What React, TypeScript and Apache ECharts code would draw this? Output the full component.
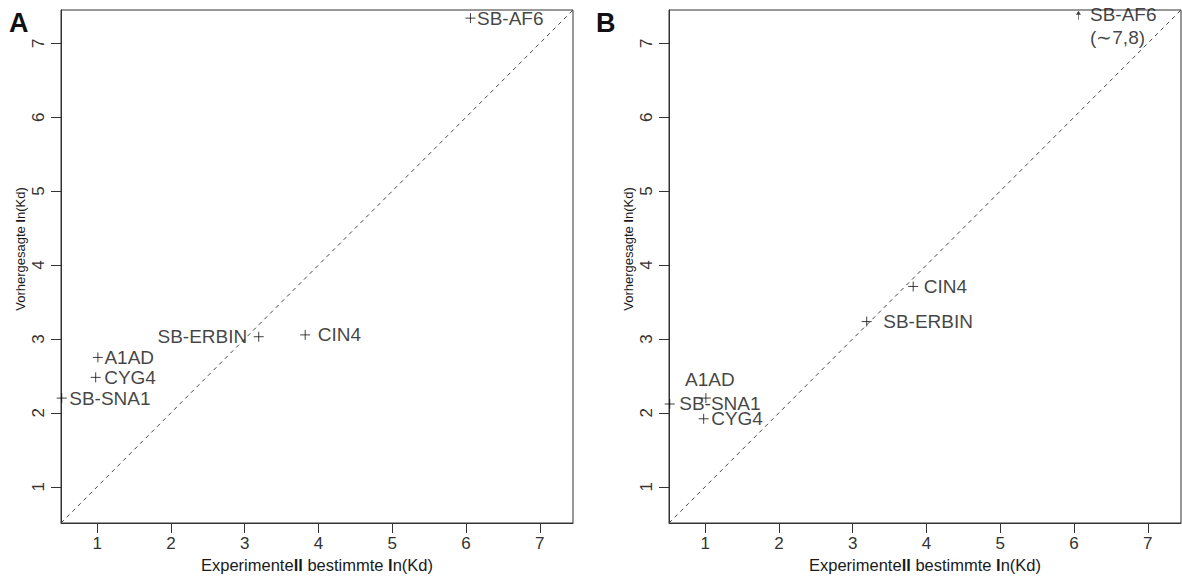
import React, { useEffect, useRef } from "react";
import * as echarts from "echarts";

const FONT = "Liberation Sans";
const AXIS_MIN = 0.51;
const AXIS_MAX = 7.45;
const TICKS = [1, 2, 3, 4, 5, 6, 7];

const proteins = ["SB-AF6", "SB-ERBIN", "CIN4", "A1AD", "CYG4", "SB-SNA1"];
const experimental = [6.06, 3.19, 3.82, 1.01, 0.98, 0.52];
const predictedA = [7.34, 3.03, 3.055, 2.75, 2.48, 2.2];
const predictedB = [7.38, 3.235, 3.71, 2.2, 1.92, 2.12];
const offScaleB = [true, false, false, false, false, false];
const noteB = ["(∼7,8)", "", "", "", "", ""];

const xTitle = ["Experimente", "ll", " bestimmte ", "l", "n(Kd)"];
const yTitle = ["Vorhergesagte ", "l", "n(Kd)"];

const CROSS = "path://M5,0L5,10M0,5L10,5";
const ARROW = "path://M3,0L6,4.5L3.4,4.5L3.4,10L2.6,10L2.6,4.5L0,4.5Z";

// label placement per point (style only)
const placeA = [
  { position: "right", distance: 1 },
  { position: "left", distance: 6 },
  { position: "right", distance: 7 },
  { position: "right", distance: 1 },
  { position: "right", distance: 3 },
  { position: "right", distance: 2 },
];
const placeB = [
  { position: "right", distance: 9, offset: [0, 11] },
  { position: "right", distance: 11 },
  { position: "right", distance: 5 },
  { position: "top", distance: 2, offset: [4, 0] },
  { position: "right", distance: 2 },
  { position: "right", distance: 4 },
];

const labelText = { fontSize: 19, fontFamily: FONT, color: "#111" };

function buildData(pred: number[], place: any[], offScale?: boolean[], notes?: string[]) {
  return proteins.map((name, i) => {
    const arrow = offScale && offScale[i];
    const txt = notes && notes[i] ? name + "\n" + notes[i] : name;
    return {
      name,
      value: [experimental[i], pred[i]],
      symbol: arrow ? ARROW : CROSS,
      symbolSize: arrow ? [5, 9] : 10,
      itemStyle: arrow
        ? { color: "#111", borderWidth: 0 }
        : { color: "transparent", borderColor: "#111", borderWidth: 1 },
      label: {
        show: true,
        formatter: txt,
        ...labelText,
        lineHeight: 23,
        ...place[i],
      },
    };
  });
}

function xAxis(gi: number) {
  return {
    type: "value",
    gridIndex: gi,
    min: AXIS_MIN,
    max: AXIS_MAX,
    splitLine: { show: false },
    axisLine: { show: true, onZero: false, lineStyle: { color: "#333", width: 1 } },
    axisTick: { show: true, length: 10, customValues: TICKS, lineStyle: { color: "#333" } },
    axisLabel: { customValues: TICKS, fontSize: 17, color: "#333", margin: 12, fontFamily: FONT },
  };
}
function yAxis(gi: number) {
  return {
    type: "value",
    gridIndex: gi,
    min: AXIS_MIN,
    max: AXIS_MAX,
    splitLine: { show: false },
    axisLine: { show: true, onZero: false, lineStyle: { color: "#333", width: 1 } },
    axisTick: { show: true, length: 10, customValues: TICKS, lineStyle: { color: "#333" } },
    axisLabel: { customValues: TICKS, fontSize: 17, color: "#333", margin: 14, rotate: 90, fontFamily: FONT },
  };
}

function titleRich(parts: string[], size: number) {
  const text = parts.map((p, i) => (i % 2 === 1 ? "{b|" + p + "}" : "{n|" + p + "}")).join("");
  return {
    text,
    rich: {
      n: { fontSize: size, fontFamily: FONT, fill: "#1a1a1a" },
      b: { fontSize: size, fontFamily: FONT, fontWeight: "bold", fill: "#1a1a1a" },
    },
  };
}

export default function App() {
  const ref = useRef<HTMLDivElement>(null);
  useEffect(() => {
    document.body.style.margin = "0";
    const chart = echarts.init(ref.current!, null, { renderer: "svg" });
    const diag = [
      [AXIS_MIN, AXIS_MIN],
      [AXIS_MAX, AXIS_MAX],
    ];
    const lineSeries = (gi: number) => ({
      type: "line",
      xAxisIndex: gi,
      yAxisIndex: gi,
      data: diag,
      symbol: "none",
      silent: true,
      lineStyle: { color: "#333", width: 0.9, type: [4, 4] },
      z: 1,
    });
    const scatter = (gi: number, data: any[]) => ({
      type: "scatter",
      xAxisIndex: gi,
      yAxisIndex: gi,
      data,
      clip: false,
      z: 3,
    });
    chart.setOption({
      animation: false,
      backgroundColor: "#fff",
      grid: [
        { left: 61, top: 10, width: 512, height: 513, show: true, borderColor: "#333", borderWidth: 1 },
        { left: 669, top: 10, width: 512, height: 513, show: true, borderColor: "#333", borderWidth: 1 },
      ],
      xAxis: [xAxis(0), xAxis(1)],
      yAxis: [yAxis(0), yAxis(1)],
      series: [
        lineSeries(0),
        lineSeries(1),
        scatter(0, buildData(predictedA, placeA)),
        scatter(1, buildData(predictedB, placeB, offScaleB, noteB)),
      ],
      graphic: [
        { type: "text", left: 9, top: 9, style: { text: "A", fontSize: 27, fontWeight: "bold", fontFamily: FONT, fill: "#111" } },
        { type: "text", left: 596, top: 9, style: { text: "B", fontSize: 27, fontWeight: "bold", fontFamily: FONT, fill: "#111" } },
        { type: "text", x: 317, y: 565, style: { ...titleRich(xTitle, 16.5), align: "center", verticalAlign: "middle" } },
        { type: "text", x: 925, y: 565, style: { ...titleRich(xTitle, 16.5), align: "center", verticalAlign: "middle" } },
        { type: "text", x: 20, y: 249, rotation: Math.PI / 2, style: { ...titleRich(yTitle, 13), align: "center", verticalAlign: "middle" } },
        { type: "text", x: 628, y: 249, rotation: Math.PI / 2, style: { ...titleRich(yTitle, 13), align: "center", verticalAlign: "middle" } },
      ],
    });
    return () => chart.dispose();
  }, []);
  return <div ref={ref} style={{ width: 1182, height: 580 }} />;
}
